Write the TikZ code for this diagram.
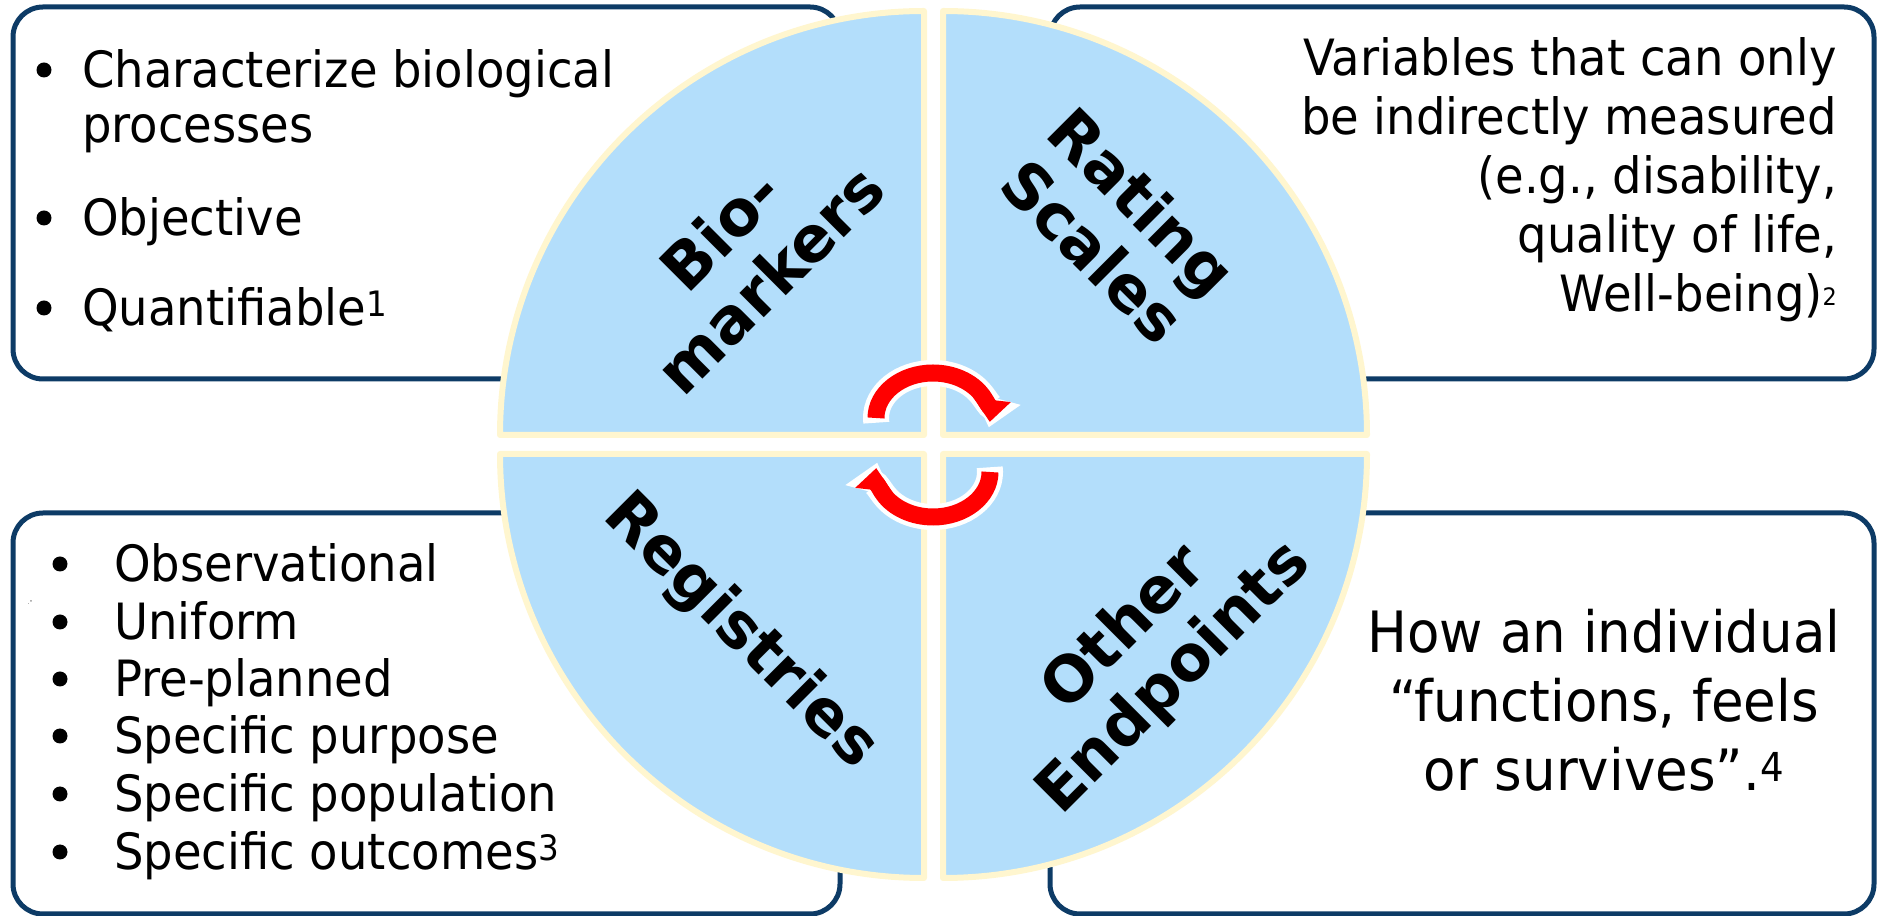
\documentclass[tikz,border=0pt]{standalone}
\usepackage{fontspec}
\setmainfont{DejaVu Sans}[FakeStretch=0.93]
\newfontfamily\labelfont{DejaVu Sans}
\usetikzlibrary{arrows.meta}
\definecolor{navy}{HTML}{0D3B66}
\definecolor{quadblue}{HTML}{B3DEFB}
\definecolor{quadrim}{HTML}{FFF6CF}
\tikzset{
  box/.style={draw=navy, line width=5pt, rounded corners=30pt, fill=white},
  quad/.style={draw=quadrim, line width=6pt, fill=quadblue, line join=round},
  listtext/.style={anchor=base west, inner sep=0pt, font=\fontsize{50}{60}\selectfont},
  bulletdot/.style={circle, fill=black, inner sep=0pt, minimum size=15pt},
  prose/.style={inner sep=0pt, font=\fontsize{50}{59}\selectfont},
  quadlabel/.style={align=center, inner sep=0pt, font=\labelfont\bfseries\fontsize{63}{70}\selectfont},
  turn/.style={line width=17pt, red},
  turnrim/.style={line width=26pt, white},
}
\begin{document}
\begin{tikzpicture}[x=1pt,y=1pt]
\useasboundingbox (0,0) rectangle (1883,916);

% boxes
\draw[box] (13,537) rectangle (840,909);
\draw[box] (1050,537) rectangle (1874,909);
\draw[box] (13,2) rectangle (840,403);
\draw[box] (1050,2) rectangle (1874,403);

% the four quarters
\draw[quad] (924,481) -- (500,481) arc[start angle=180,end angle=90,radius=424] -- cycle;
\draw[quad] (943,481) -- (1367,481) arc[start angle=0,end angle=90,radius=424] -- cycle;
\draw[quad] (924,462) -- (500,462) arc[start angle=180,end angle=270,radius=424] -- cycle;
\draw[quad] (943,462) -- (1367,462) arc[start angle=0,end angle=-90,radius=424] -- cycle;

% turning arrows
\draw[turnrim, -{Triangle[width=48pt,length=30pt]}] (933,498) ++(186:57 and 45) arc[start angle=186,end angle=-12,x radius=57,y radius=45];
\draw[turn, -{Triangle[width=36pt,length=22pt]}] (933,498) ++(180:57 and 45) arc[start angle=180,end angle=-5,x radius=57,y radius=45];
\draw[turnrim, -{Triangle[width=48pt,length=30pt]}] (933,444) ++(6:57 and 45) arc[start angle=6,end angle=-192,x radius=57,y radius=45];
\draw[turn, -{Triangle[width=36pt,length=22pt]}] (933,444) ++(0:57 and 45) arc[start angle=0,end angle=-185,x radius=57,y radius=45];

% labels in the circle
\node[quadlabel, rotate=45] (bio) at (745,662) {Bio-\\markers};
\node[quadlabel, rotate=-45] (rating) at (1118,690) {Rating\\Scales};
\node[quadlabel, rotate=-45] (reg) at (740,284) {Registries};
\node[quadlabel, rotate=45] (other) at (1150,262) {Other\\Endpoints};

% top left
\node[bulletdot] (bio1dot) at (44,846) {};
\node[listtext] (bio1) at (82,828) {Characterize biological};
\node[listtext] (bio1b) at (82,773) {processes};
\node[bulletdot] (bio2dot) at (44,698) {};
\node[listtext] (bio2) at (82,680) {Objective};
\node[bulletdot] (bio3dot) at (44,608) {};
\node[listtext] (bio3) at (82,590) {Quantifiable\textsuperscript{1}};

% top right
\node[prose, anchor=base east, align=right] (ratingtext) at (1837,604) {Variables that can only\\be indirectly measured\\(e.g., disability,\\quality of life,\\Well-being)\raisebox{6pt}{\fontsize{24}{24}\selectfont 2}};

% bottom left
\node[font=\fontsize{5}{5}\selectfont, inner sep=0pt] (mark) at (30,313) {.\,''};
\node[bulletdot] (reg1dot) at (60,352) {};
\node[listtext] (reg1) at (114,334) {Observational};
\node[bulletdot] (reg2dot) at (60,294) {};
\node[listtext] (reg2) at (114,276) {Uniform};
\node[bulletdot] (reg3dot) at (60,237) {};
\node[listtext] (reg3) at (114,219) {Pre-planned};
\node[bulletdot] (reg4dot) at (60,180) {};
\node[listtext] (reg4) at (114,162) {Specific purpose};
\node[bulletdot] (reg5dot) at (60,122) {};
\node[listtext] (reg5) at (114,104) {Specific population};
\node[bulletdot] (reg6dot) at (60,64) {};
\node[listtext] (reg6) at (114,46) {Specific outcomes\textsuperscript{3}};

% bottom right
\node[prose, anchor=base, align=center, font=\fontsize{57}{69}\selectfont] (othertext) at (1604,125) {How an individual\\“functions, feels\\or survives”.\textsuperscript{4}};

\end{tikzpicture}
\end{document}
